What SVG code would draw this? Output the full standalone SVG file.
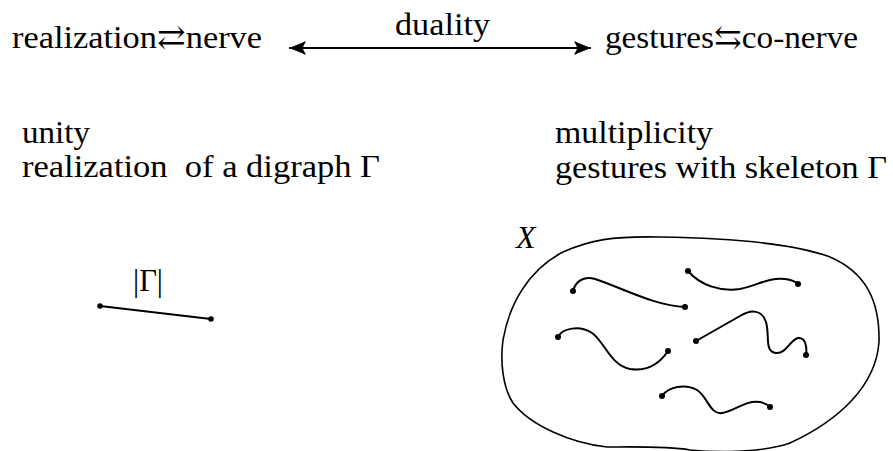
<svg xmlns="http://www.w3.org/2000/svg" width="893" height="451" viewBox="0 0 893 451">
  <style>
    text { font-family: "Liberation Serif", "DejaVu Serif", serif; font-size: 32px; fill: #000; }
    .math { font-style: italic; }
    .curve { fill: none; stroke: #000; stroke-width: 2; stroke-linecap: round; }
    .outline { fill: none; stroke: #000; stroke-width: 1.6; }
    .dot { fill: #000; }
  </style>
  <defs>
    <marker id="head" viewBox="-20 -10 22 20" refX="0" refY="0" markerWidth="22" markerHeight="20" markerUnits="userSpaceOnUse" orient="auto-start-reverse">
      <path d="M0,0 C-6,-2 -12,-5 -17,-7 L-13.5,0 L-17,7 C-12,5 -6,2 0,0 Z" fill="#000"/>
    </marker>
  </defs>
  <rect width="893" height="451" fill="#fff"/>

  <!-- header row -->
  <g id="left-title">
    <text x="12" y="48" textLength="250" lengthAdjust="spacingAndGlyphs">realization⇄nerve</text>
  </g>
  <g id="right-title">
    <text x="605" y="48" textLength="253" lengthAdjust="spacingAndGlyphs">gestures⇆co-nerve</text>
  </g>

  <g id="connectors">
    <line x1="289" y1="48" x2="591" y2="48" stroke="#000" stroke-width="2.2" marker-start="url(#head)" marker-end="url(#head)"/>
    <text x="395" y="35" textLength="95" lengthAdjust="spacingAndGlyphs">duality</text>
  </g>

  <!-- left column: unity -->
  <g id="unity">
    <text x="22" y="143" font-size="31" textLength="68" lengthAdjust="spacingAndGlyphs">unity</text>
    <text x="22" y="177" font-size="31" textLength="358" lengthAdjust="spacingAndGlyphs" xml:space="preserve">realization  of a digraph Γ</text>
  </g>

  <!-- right column: multiplicity -->
  <g id="multiplicity">
    <text x="555" y="143" font-size="31" textLength="158" lengthAdjust="spacingAndGlyphs">multiplicity</text>
    <text x="555" y="178" font-size="31" textLength="332" lengthAdjust="spacingAndGlyphs">gestures with skeleton Γ</text>
  </g>

  <!-- realization |Γ| : a single edge -->
  <g id="realization">
    <text x="133" y="291" font-size="33" textLength="30" lengthAdjust="spacingAndGlyphs">|Γ|</text>
    <line x1="100" y1="306" x2="211" y2="319" stroke="#000" stroke-width="1.8"/>
    <circle class="dot" cx="100" cy="306" r="2.8"/>
    <circle class="dot" cx="211" cy="319" r="2.8"/>
  </g>

  <!-- space X with gestures drawn inside -->
  <g id="space-X">
    <text class="math" x="516" y="248" font-size="33">X</text>
    <path class="outline" d="M503,340 C509,305 528,270 563,252 C590,240 612,236 660,237 C720,238 790,242 830,257 C865,272 880,300 879,342 C876,385 840,420 790,443 C765,452 720,453 690,450 C668,446 630,447 607,447 C570,443 530,425 513,403 C503,388 500,362 503,340 Z"/>

    <path class="curve" d="M573,291 C576,280 585,276 595,279 C620,287 655,306 685,307"/>
    <circle class="dot" cx="573" cy="291" r="3"/>
    <circle class="dot" cx="685" cy="307" r="3"/>

    <path class="curve" d="M688,271 C700,285 720,292 740,289 C758,285 770,277 785,279 C792,280 796,282 798,284"/>
    <circle class="dot" cx="688" cy="271" r="3"/>
    <circle class="dot" cx="798" cy="284" r="3"/>

    <path class="curve" d="M558,337 C562,328 580,325 592,333 C605,342 610,365 630,369 C650,372 662,360 668,351"/>
    <circle class="dot" cx="558" cy="337" r="3"/>
    <circle class="dot" cx="668" cy="351" r="3"/>

    <path class="curve" d="M696,341 L740,316 C752,309 762,310 766,322 C770,335 764,352 776,353 C786,354 790,340 798,338 C806,337 807,348 806,355"/>
    <circle class="dot" cx="696" cy="341" r="3"/>
    <circle class="dot" cx="806" cy="355" r="3"/>

    <path class="curve" d="M662,396 C668,387 685,383 697,390 C708,397 710,415 722,413 C735,411 745,400 760,402 C765,403 768,405 770,407"/>
    <circle class="dot" cx="662" cy="396" r="3"/>
    <circle class="dot" cx="770" cy="407" r="3"/>
  </g>
</svg>
